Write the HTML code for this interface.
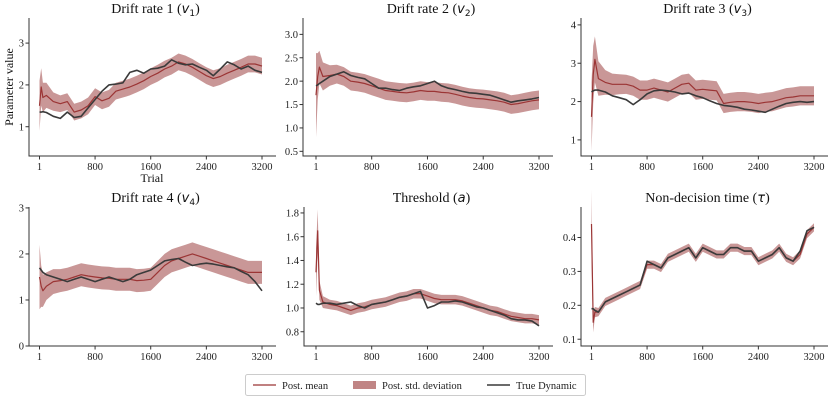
<!DOCTYPE html>
<html><head><meta charset="utf-8"><style>
body{margin:0;background:#fff;}
svg{display:block;font-family:"Liberation Serif",serif;}
</style></head><body>
<svg id="fig" width="830" height="401" viewBox="0 0 830 401"></svg>
<script>
const trials=[1,25,50,100,200,300,400,500,600,700,800,900,1000,1100,1200,1300,1400,1500,1600,1700,1800,1900,2000,2100,2200,2300,2400,2500,2600,2700,2800,2900,3000,3100,3200];
const xTicks=[1,800,1600,2400,3200];
// v1
const v1True=[1.35,1.35,1.36,1.34,1.25,1.2,1.35,1.22,1.25,1.45,1.65,1.85,2.0,2.02,2.05,2.3,2.35,2.28,2.38,2.4,2.45,2.6,2.52,2.48,2.5,2.42,2.35,2.22,2.38,2.55,2.48,2.38,2.45,2.35,2.3];
const v1Mean=[1.5,1.95,1.7,1.75,1.6,1.55,1.6,1.35,1.4,1.5,1.72,1.62,1.68,1.85,1.9,1.95,2.02,2.1,2.2,2.28,2.38,2.45,2.55,2.5,2.42,2.32,2.22,2.15,2.2,2.28,2.35,2.42,2.5,2.5,2.45];
const v1Sd=[0.6,0.45,0.35,0.3,0.22,0.2,0.2,0.2,0.2,0.2,0.2,0.2,0.2,0.2,0.2,0.2,0.2,0.2,0.2,0.2,0.2,0.2,0.2,0.2,0.2,0.2,0.2,0.2,0.2,0.2,0.2,0.2,0.2,0.2,0.2];
// v2
const v2True=[1.9,1.92,1.95,2.0,2.1,2.15,2.2,2.12,2.08,2.05,1.95,1.85,1.85,1.82,1.8,1.85,1.88,1.9,1.95,2.0,1.9,1.85,1.82,1.78,1.75,1.74,1.72,1.7,1.65,1.6,1.55,1.58,1.6,1.62,1.65];
const v2Mean=[1.7,2.1,2.3,2.1,2.12,2.15,2.1,2.0,1.98,1.95,1.9,1.85,1.8,1.78,1.76,1.75,1.77,1.8,1.78,1.78,1.76,1.75,1.72,1.68,1.65,1.63,1.62,1.6,1.58,1.55,1.5,1.52,1.55,1.58,1.6];
const v2Sd=[0.9,0.5,0.35,0.3,0.22,0.2,0.2,0.2,0.2,0.2,0.2,0.2,0.2,0.2,0.2,0.2,0.2,0.2,0.2,0.2,0.2,0.2,0.2,0.2,0.2,0.2,0.2,0.2,0.2,0.2,0.2,0.2,0.2,0.2,0.2];
// v3
const v3True=[2.25,2.28,2.3,2.3,2.25,2.15,2.1,2.05,1.92,2.05,2.2,2.28,2.3,2.28,2.25,2.2,2.22,2.15,2.1,2.02,1.95,1.9,1.88,1.85,1.8,1.78,1.75,1.72,1.8,1.88,1.95,1.98,2.0,1.98,2.0];
const v3Mean=[1.6,2.7,3.1,2.6,2.5,2.45,2.45,2.45,2.4,2.3,2.3,2.35,2.3,2.25,2.35,2.45,2.48,2.3,2.32,2.3,2.28,1.95,1.98,2.0,2.0,1.98,1.95,1.98,2.0,2.05,2.1,2.12,2.15,2.15,2.15];
const v3Sd=[0.9,0.75,0.6,0.45,0.32,0.28,0.26,0.25,0.25,0.25,0.25,0.25,0.25,0.25,0.25,0.25,0.25,0.25,0.25,0.25,0.25,0.25,0.25,0.25,0.25,0.25,0.25,0.25,0.25,0.25,0.25,0.25,0.25,0.25,0.25];
// v4
const v4True=[1.7,1.65,1.6,1.55,1.5,1.45,1.4,1.45,1.5,1.45,1.4,1.45,1.5,1.45,1.4,1.45,1.55,1.6,1.65,1.75,1.85,1.88,1.9,1.82,1.75,1.78,1.8,1.78,1.75,1.72,1.7,1.62,1.55,1.4,1.2];
const v4Mean=[1.5,1.3,1.2,1.3,1.4,1.42,1.45,1.5,1.55,1.52,1.5,1.48,1.47,1.45,1.45,1.45,1.42,1.43,1.45,1.6,1.75,1.85,1.9,1.95,2.0,1.95,1.9,1.85,1.8,1.75,1.7,1.65,1.6,1.6,1.6];
const v4Sd=[0.7,0.45,0.35,0.3,0.27,0.25,0.25,0.25,0.25,0.25,0.25,0.25,0.25,0.25,0.25,0.25,0.25,0.25,0.25,0.25,0.25,0.25,0.25,0.25,0.25,0.25,0.25,0.25,0.25,0.25,0.25,0.25,0.25,0.25,0.25];
// threshold a
const aTrue=[1.04,1.03,1.03,1.04,1.04,1.03,1.04,1.05,1.02,1.0,1.03,1.04,1.05,1.07,1.09,1.1,1.12,1.14,1.0,1.02,1.05,1.05,1.06,1.05,1.03,1.01,1.0,0.98,0.96,0.94,0.91,0.9,0.9,0.89,0.85];
const aMean=[1.3,1.65,1.15,1.05,1.03,1.02,1.0,0.98,1.0,1.01,1.03,1.04,1.05,1.07,1.09,1.1,1.12,1.12,1.1,1.08,1.07,1.07,1.07,1.06,1.04,1.02,1.0,0.98,0.97,0.95,0.93,0.92,0.91,0.91,0.9];
const aSd=[0.2,0.18,0.08,0.05,0.04,0.04,0.04,0.04,0.04,0.04,0.04,0.04,0.04,0.04,0.04,0.04,0.04,0.04,0.04,0.04,0.04,0.04,0.04,0.04,0.04,0.04,0.04,0.04,0.04,0.04,0.04,0.04,0.04,0.04,0.04];
// tau
const tTrue=[0.19,0.19,0.185,0.18,0.21,0.22,0.23,0.24,0.25,0.26,0.33,0.32,0.31,0.34,0.35,0.36,0.37,0.34,0.37,0.36,0.35,0.35,0.37,0.37,0.36,0.36,0.33,0.34,0.35,0.37,0.34,0.33,0.36,0.42,0.43];
const tMean=[0.44,0.15,0.18,0.18,0.21,0.22,0.23,0.24,0.25,0.26,0.32,0.32,0.31,0.34,0.35,0.36,0.37,0.34,0.37,0.36,0.35,0.35,0.37,0.37,0.36,0.36,0.33,0.34,0.35,0.37,0.34,0.33,0.35,0.41,0.43];
const tSd=[0.1,0.03,0.015,0.012,0.012,0.012,0.012,0.012,0.012,0.012,0.012,0.012,0.012,0.012,0.012,0.012,0.012,0.012,0.012,0.012,0.012,0.012,0.012,0.012,0.012,0.012,0.012,0.012,0.012,0.012,0.012,0.012,0.012,0.012,0.012];

const v1Ticks=[1,2,3], v2Ticks=[0.5,1.0,1.5,2.0,2.5,3.0], v3Ticks=[1,2,3,4], v4Ticks=[0,1,2,3], aTicks=[0.8,1.0,1.2,1.4,1.6,1.8], tTicks=[0.1,0.2,0.3,0.4];

const NS="http://www.w3.org/2000/svg";
const svg=document.getElementById('fig');
function mk(tag,attrs,parent){const e=document.createElementNS(NS,tag);for(const k in attrs)e.setAttribute(k,attrs[k]);(parent||svg).appendChild(e);return e;}

const panels=[
 {name:'drift-rate-1',title:'Drift rate 1 (',sub:'1',L:29,R:276,T:18,B:156,x0:39.5,x1:262,ymin:0.3,ymax:3.6,ticks:v1Ticks,dec:0,tru:v1True,mean:v1Mean,sd:v1Sd,ylabel:true,xlabel:true},
 {name:'drift-rate-2',title:'Drift rate 2 (',sub:'2',L:303,R:553,T:18,B:156,x0:316,x1:539,ymin:0.4,ymax:3.35,ticks:v2Ticks,dec:1,tru:v2True,mean:v2Mean,sd:v2Sd},
 {name:'drift-rate-3',title:'Drift rate 3 (',sub:'3',L:581,R:828,T:18,B:156,x0:591.5,x1:814,ymin:0.58,ymax:4.18,ticks:v3Ticks,dec:0,tru:v3True,mean:v3Mean,sd:v3Sd},
 {name:'drift-rate-4',title:'Drift rate 4 (',sub:'4',L:29,R:276,T:207,B:346,x0:39.5,x1:262,ymin:0,ymax:3.02,ticks:v4Ticks,dec:0,tru:v4True,mean:v4Mean,sd:v4Sd},
 {name:'threshold',title:'Threshold (',sym:'a',L:304,R:553,T:207,B:346,x0:316,x1:539,ymin:0.68,ymax:1.85,ticks:aTicks,dec:1,tru:aTrue,mean:aMean,sd:aSd},
 {name:'non-decision-time',title:'Non-decision time (',sym:'τ',L:581,R:828,T:207,B:346,x0:591.5,x1:814,ymin:0.08,ymax:0.49,ticks:tTicks,dec:1,tru:tTrue,mean:tMean,sd:tSd}
];

panels.forEach(p=>{
 const g=mk('g',{});
 
 
 const xs=t=>p.x0+(t-1)/(3199)*(p.x1-p.x0);
 const ys=v=>p.B-(v-p.ymin)/(p.ymax-p.ymin)*(p.B-p.T);
 // band
 let d='';
 trials.forEach((t,i)=>{d+=(i?'L':'M')+xs(t).toFixed(1)+','+ys(p.mean[i]+p.sd[i]).toFixed(1);});
 for(let i=trials.length-1;i>=0;i--)d+='L'+xs(trials[i]).toFixed(1)+','+ys(p.mean[i]-p.sd[i]).toFixed(1);
 const band=mk('path',{d:d+'Z',fill:'#c08585',opacity:'0.85'},g);
 
 
 const line=(arr,col,w,nm)=>{let s='';trials.forEach((t,i)=>{s+=(i?'L':'M')+xs(t).toFixed(1)+','+ys(arr[i]).toFixed(1);});
  const e=mk('path',{d:s,fill:'none',stroke:col,'stroke-width':w,'stroke-linejoin':'round'},g);
  
  };
 line(p.mean,'#9b3535',1.2,'posterior-mean-line');
 line(p.tru,'#3a3a3a',1.6,'true-dynamic-line');
 // axes
 const ax=mk('path',{d:`M${p.L},${p.T}V${p.B}H${p.R}`,fill:'none',stroke:'#333','stroke-width':1},g);
 
 
 xTicks.forEach(t=>{const x=xs(t);mk('line',{x1:x,x2:x,y1:p.B,y2:p.B+3.5,stroke:'#333'},g);
  const tx=mk('text',{x:x,y:p.B+14,'text-anchor':'middle','font-size':'10.5',fill:'#222'},g);tx.textContent=t;
  
  });
 p.ticks.forEach(v=>{const y=ys(v);mk('line',{x1:p.L-3.5,x2:p.L,y1:y,y2:y,stroke:'#333'},g);
  const tx=mk('text',{x:p.L-5,y:y+3.6,'text-anchor':'end','font-size':'10.5',fill:'#222'},g);tx.textContent=v.toFixed(p.dec);
  
  });
 const tt=mk('text',{x:(p.L+p.R)/2+3,y:p.T-5,'text-anchor':'middle','font-size':'14',fill:'#111'},g);
 
 
 tt.appendChild(document.createTextNode(p.title));
 const sy=mk('tspan',{'font-family':'"DejaVu Sans",sans-serif','font-style':'italic','font-size':'13'},tt);sy.textContent=p.sym||'v';
 if(p.sub){const sb=mk('tspan',{'font-family':'"DejaVu Sans",sans-serif','font-size':'9',dy:'3'},tt);sb.textContent=p.sub;
  const cl=mk('tspan',{dy:'-3'},tt);cl.textContent=')';}
 else{const cl=mk('tspan',{},tt);cl.textContent=')';}
 if(p.ylabel){const yl=mk('text',{x:0,y:0,transform:'translate(13,87) rotate(-90)','text-anchor':'middle','font-size':'12',fill:'#111'},g);yl.textContent='Parameter value';
  
  }
 if(p.xlabel){const xl=mk('text',{x:152,y:182,'text-anchor':'middle','font-size':'12',fill:'#111'},g);xl.textContent='Trial';
  
  }
});

// legend
const lg=mk('g',{});


mk('rect',{x:245.5,y:374.5,width:340,height:21,rx:2,fill:'#fff',stroke:'#ccc'},lg);
mk('line',{x1:253,x2:276,y1:385,y2:385,stroke:'#9b3535','stroke-width':1.3},lg);
let t1=mk('text',{x:282,y:389,'font-size':'10.5',fill:'#222'},lg);t1.textContent='Post. mean';


mk('rect',{x:353,y:381,width:23,height:8,fill:'#c08585'},lg);
let t2=mk('text',{x:382,y:389,'font-size':'10.5',fill:'#222'},lg);t2.textContent='Post. std. deviation';


mk('line',{x1:487,x2:510,y1:385,y2:385,stroke:'#3a3a3a','stroke-width':1.6},lg);
let t3=mk('text',{x:516,y:389,'font-size':'10.5',fill:'#222'},lg);t3.textContent='True Dynamic';


</script>
</body></html>
